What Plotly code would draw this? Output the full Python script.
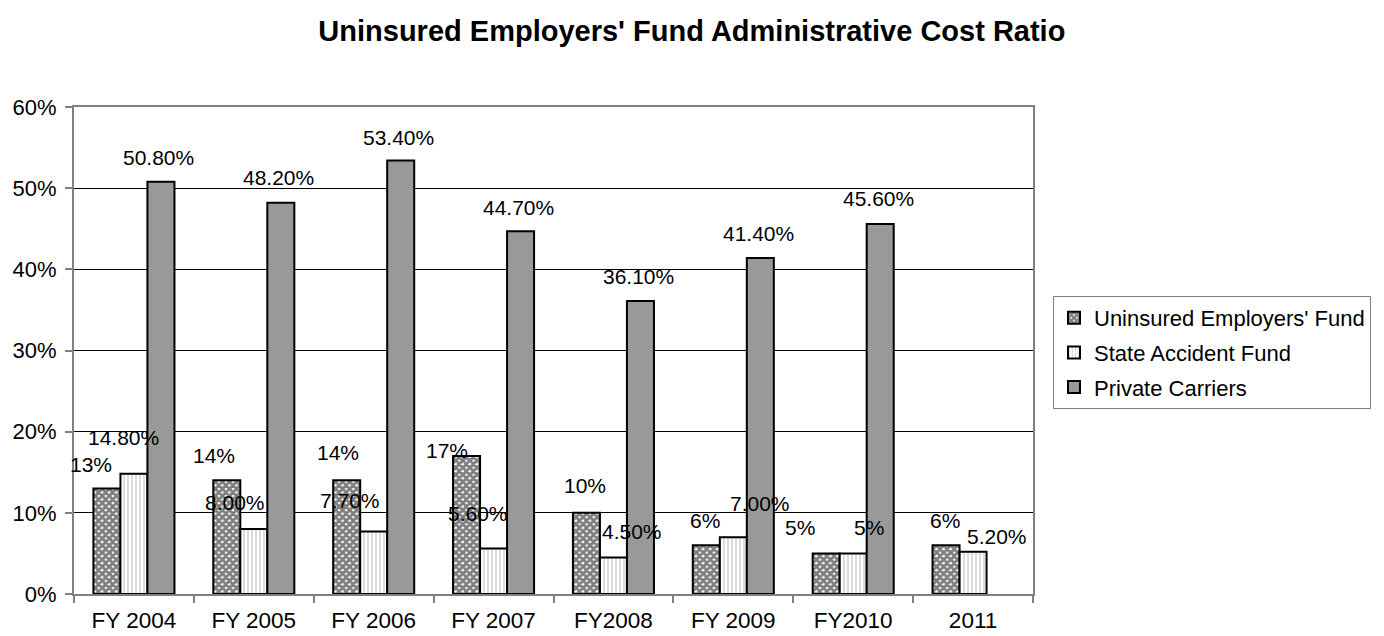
import plotly.graph_objects as go

# categories and values (fractions)
years = ["FY 2004", "FY 2005", "FY 2006", "FY 2007", "FY2008", "FY 2009", "FY2010", "2011"]
uef = [0.13, 0.14, 0.14, 0.17, 0.10, 0.06, 0.05, 0.06]
saf = [0.148, 0.080, 0.077, 0.056, 0.045, 0.070, 0.05, 0.052]
pc = [0.508, 0.482, 0.534, 0.447, 0.361, 0.414, 0.456, None]

uef_text = ["13%", "14%", "14%", "17%", "10%", "6%", "5%", "6%"]
saf_text = ["14.80%", "8.00%", "7.70%", "5.60%", "4.50%", "7.00%", "5%", "5.20%"]
pc_text = ["50.80%", "48.20%", "53.40%", "44.70%", "36.10%", "41.40%", "45.60%", ""]

# label nudges in pixels (as placed in the original chart)
uef_dx = [-16, -13, -8.5, -20, -1, -1, -26.5, -1.5]
uef_dy = [23.5, 25, 28, 6, 27, 25, 26, 25]
saf_dx = [-10, -19, -23.5, -15.5, 19, 27, 16, 24]
saf_dy = [36, 27, 31.5, 35.5, 25.5, 34, 26, 15]
pc_dx = [-2] * 8
pc_dy = [24, 25, 23.5, 24, 24, 24, 25, 0]

FONT = "Liberation Sans, Arial, sans-serif"
BARGAP = 0.324
w = (1 - BARGAP) / 3

fig = go.Figure()
fig.add_bar(x=years, y=uef, name="Uninsured Employers' Fund", legendgroup="a",
            marker=dict(color="white", line=dict(color="black", width=2),
                        pattern=dict(shape="x", fgcolor="black", bgcolor="white",
                                     size=5, solidity=0.8)))
fig.add_bar(x=years, y=saf, name="State Accident Fund", legendgroup="b",
            marker=dict(color="white", line=dict(color="black", width=2),
                        pattern=dict(shape="|", fgcolor="#8a8a8a", bgcolor="white",
                                     size=4, solidity=0.3)))
fig.add_bar(x=years, y=pc, name="Private Carriers", legendgroup="c",
            marker=dict(color="#999999", line=dict(color="black", width=2)))

annotations = []
for vals, texts, dxs, dys, off in [(uef, uef_text, uef_dx, uef_dy, -w),
                                   (saf, saf_text, saf_dx, saf_dy, 0),
                                   (pc, pc_text, pc_dx, pc_dy, w)]:
    for i, v in enumerate(vals):
        if v is None:
            continue
        annotations.append(dict(x=i + off, y=v, xref="x", yref="y", text=texts[i],
                                showarrow=False, xshift=dxs[i], yshift=dys[i],
                                font=dict(family=FONT, size=21, color="black")))

# page body has an 8px margin, so the figure is drawn 8px smaller
fig.update_layout(
    width=1376, height=628,
    paper_bgcolor="white", plot_bgcolor="white",
    margin=dict(l=66, r=351, t=99, b=42),
    barmode="group", bargap=BARGAP, bargroupgap=0,
    font=dict(family=FONT, size=22, color="black"),
    title=dict(text="<b>Uninsured Employers' Fund Administrative Cost Ratio</b>",
               x=0.497, xref="container", xanchor="center",
               y=1 - 23 / 628, yref="container", yanchor="middle",
               font=dict(family=FONT, size=29, color="black")),
    legend=dict(x=1045 / 1376, y=1 - 288 / 628, xref="container", yref="container",
                xanchor="left", yanchor="top",
                bordercolor="#808080", borderwidth=1, bgcolor="white",
                traceorder="grouped", tracegroupgap=3,
                font=dict(family=FONT, size=22, color="black")),
    annotations=annotations,
)
fig.update_xaxes(type="category", range=[-0.5, 7.5], automargin=False,
                 showline=True, linecolor="#808080", linewidth=2,
                 mirror=True, ticks="outside", tickson="boundaries", ticklen=7,
                 tickcolor="#808080", tickwidth=2, showgrid=False,
                 ticklabelstandoff=5, tickfont=dict(family=FONT, size=22.5))
fig.update_yaxes(range=[0, 0.6], dtick=0.1, tickformat=".0%", automargin=False,
                 showline=True, linecolor="#808080", linewidth=2, mirror=True,
                 ticks="outside", ticklen=7, tickcolor="#808080", tickwidth=2,
                 showgrid=True, gridcolor="black", gridwidth=1, zeroline=False,
                 ticklabelstandoff=4, tickfont=dict(family=FONT, size=22))

fig.write_html("out.html")
